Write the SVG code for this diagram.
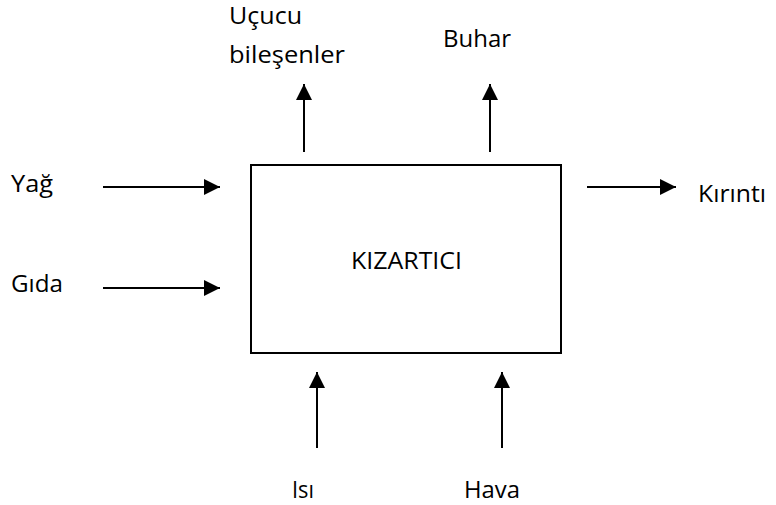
<svg xmlns="http://www.w3.org/2000/svg" width="776" height="505" viewBox="0 0 776 505">
<style>
text{font-family:"Open Sans","Liberation Sans",sans-serif;font-size:23px;fill:#000}
.c line{stroke:#000;stroke-width:2;marker-end:url(#ah)}
</style>
<defs>
<marker id="ah" markerUnits="userSpaceOnUse" markerWidth="16" markerHeight="16" viewBox="0 0 16 16" refX="16" refY="8" orient="auto">
<path d="M0,0 L16,8 L0,16 Z" fill="#000"/>
</marker>
</defs>
<rect width="776" height="505" fill="#fff"/>
<g id="kizartici">
<rect x="251" y="165" width="310" height="188" fill="#fff" stroke="#000" stroke-width="2"/>
<text x="351" y="269" textLength="111" lengthAdjust="spacingAndGlyphs">KIZARTICI</text>
</g>
<g id="ucucu"><text x="229" y="24" textLength="73" lengthAdjust="spacingAndGlyphs">Uçucu</text><text x="229" y="63" textLength="116" lengthAdjust="spacingAndGlyphs">bileşenler</text></g>
<g id="buhar"><text x="443" y="47" textLength="68" lengthAdjust="spacingAndGlyphs">Buhar</text></g>
<g id="yag"><text x="11" y="192" textLength="42" lengthAdjust="spacingAndGlyphs">Yağ</text></g>
<g id="gida"><text x="11" y="292" textLength="52" lengthAdjust="spacingAndGlyphs">Gıda</text></g>
<g id="kirinti"><text x="698" y="202" textLength="68" lengthAdjust="spacingAndGlyphs">Kırıntı</text></g>
<g id="isi"><text x="292" y="498" textLength="22" lengthAdjust="spacingAndGlyphs">Isı</text></g>
<g id="hava"><text x="464" y="498" textLength="56" lengthAdjust="spacingAndGlyphs">Hava</text></g>
<g class="c" id="connectors">
<line x1="103" y1="187" x2="220" y2="187"/>
<line x1="103" y1="288" x2="220" y2="288"/>
<line x1="587" y1="187" x2="676" y2="187"/>
<line x1="304" y1="152" x2="304" y2="84"/>
<line x1="490" y1="152" x2="490" y2="84"/>
<line x1="317" y1="448" x2="317" y2="372"/>
<line x1="502" y1="448" x2="502" y2="372"/>
</g>
</svg>
